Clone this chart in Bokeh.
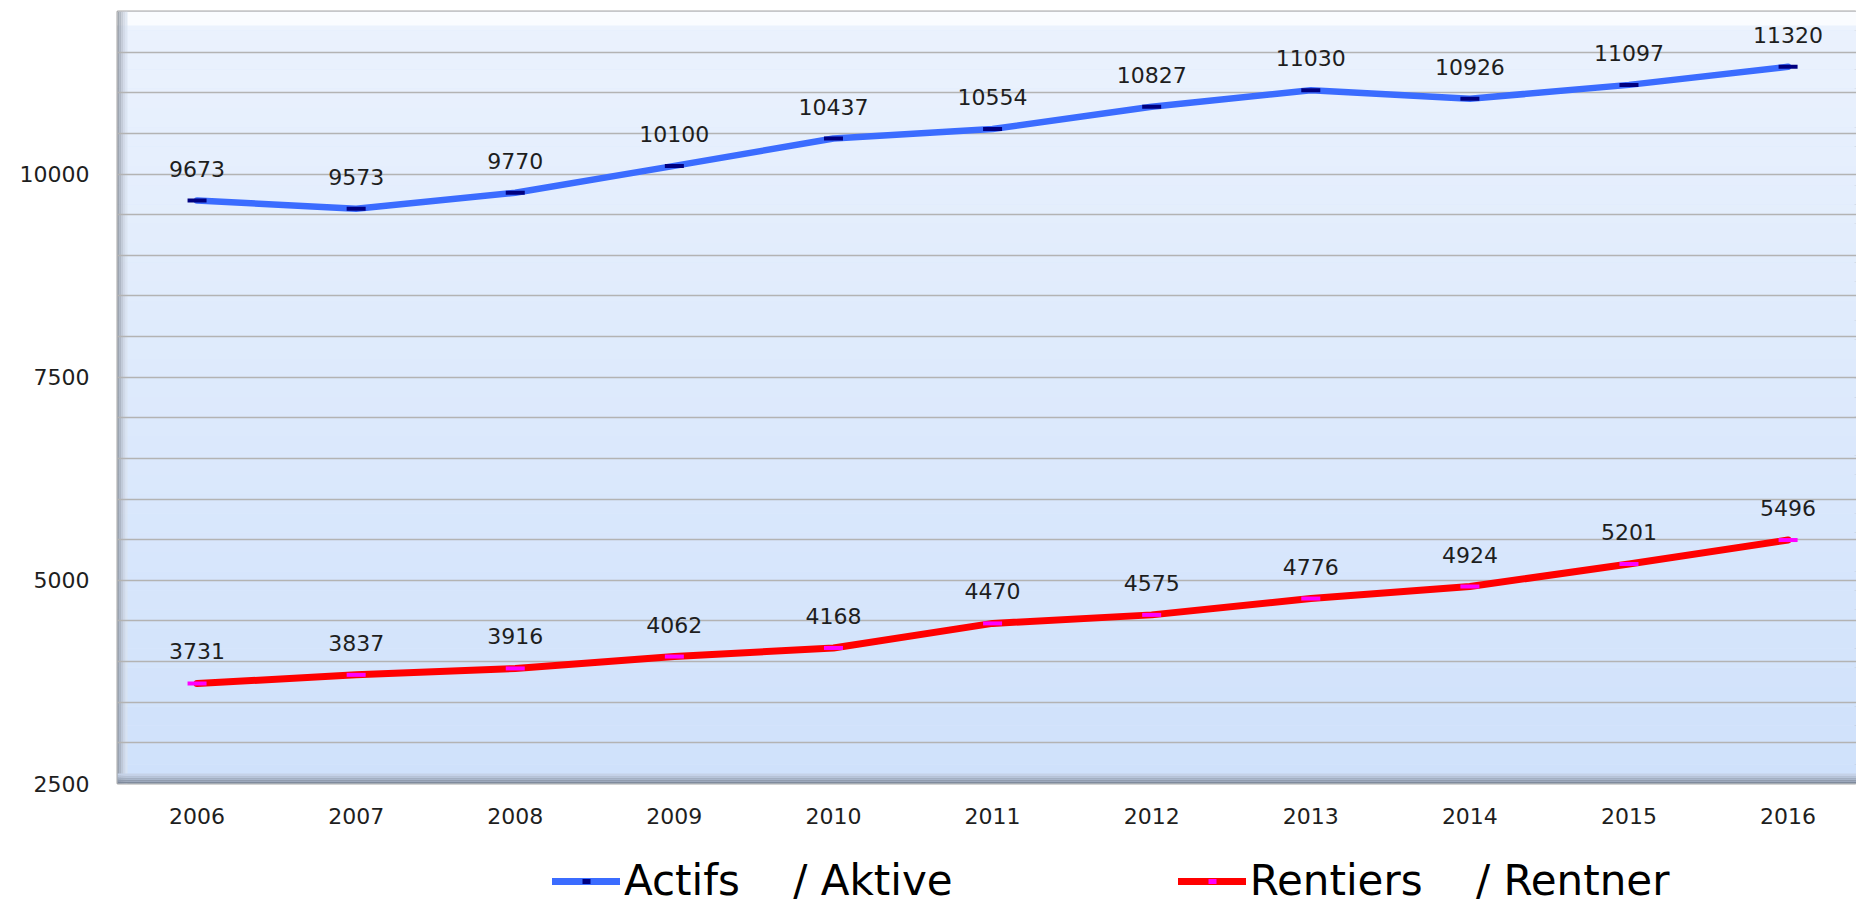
from bokeh.plotting import figure
from bokeh.layouts import column
from bokeh.models import (Legend, LegendItem, BoxAnnotation, SingleIntervalTicker,
                          Range1d)
from bokeh.core.properties import value
from bokeh.embed import file_html
from bokeh.resources import INLINE

# ---- data ----
years = [2006, 2007, 2008, 2009, 2010, 2011, 2012, 2013, 2014, 2015, 2016]
actifs = [9673, 9573, 9770, 10100, 10437, 10554, 10827, 11030, 10926, 11097, 11320]
rentiers = [3731, 3837, 3916, 4062, 4168, 4470, 4575, 4776, 4924, 5201, 5496]
label_actifs = "Actifs\u00a0\u00a0\u00a0\u00a0/ Aktive"
label_rentiers = "Rentiers\u00a0\u00a0\u00a0\u00a0/ Rentner"

# ---- style ----
FONT = "DejaVu Sans"
Y0, Y1 = 2500, 12000
X0, X1 = 2005.5, 2016.43
W, H = 1856, 848
LH = 57
ML, MT, MB = 117, 11, 65
FW, FH = W - ML, H - MT - MB
BLUE, NAVY, RED, MAGENTA = "#3b6cff", "#000080", "#ff0000", "#ff00ff"

p = figure(output_backend="svg", toolbar_location=None,
           width=W, height=H,
           x_range=Range1d(X0, X1), y_range=Range1d(Y0, Y1),
           min_border_left=ML, min_border_top=MT, min_border_right=0,
           min_border_bottom=MB)
p.background_fill_color = "#dde9fc"
p.border_fill_color = "white"
p.outline_line_color = "#a8a8a8"
p.outline_line_width = 2

# background vertical gradient (style only)
top_c = (0xEB, 0xF2, 0xFD)
bot_c = (0xCF, 0xE1, 0xFB)
N = 40
for i in range(N):
    t = (i + 0.5) / N
    c = tuple(int(round(bot_c[k] + (top_c[k] - bot_c[k]) * t)) for k in range(3))
    b = Y0 + (Y1 - Y0) * i / N
    tp = Y0 + (Y1 - Y0) * (i + 1) / N
    p.add_layout(BoxAnnotation(bottom=b, top=tp, fill_color="#%02x%02x%02x" % c,
                               fill_alpha=1, line_color=None, level="image"))

ypx = (Y1 - Y0) / FH
xpx = (X1 - X0) / FW
# top bevel (white)
p.add_layout(BoxAnnotation(bottom=Y1 - 14 * ypx, fill_color="white", fill_alpha=0.75,
                           line_color=None, level="image"))
# left bevel (grey gradient)
left_cols = ["#8c939e", "#a3aab6", "#bac2ce", "#cdd5e2", "#dae2ef"]
for i, c in enumerate(left_cols):
    p.add_layout(BoxAnnotation(left=X0 + i * 2 * xpx, right=X0 + (i + 1) * 2 * xpx,
                               fill_color=c, fill_alpha=0.8, line_color=None, level="image"))
# bottom bevel
bot_cols = ["#7f8a9c", "#919cae", "#a3afc2", "#b6c2d6", "#c5d2e7"]
for i, c in enumerate(bot_cols):
    p.add_layout(BoxAnnotation(bottom=Y0 + i * 2 * ypx, top=Y0 + (i + 1) * 2 * ypx,
                               fill_color=c, fill_alpha=1, line_color=None, level="image"))

# grid
p.xgrid.grid_line_color = None
p.ygrid.ticker = SingleIntervalTicker(interval=500)
p.ygrid.grid_line_color = "#b3b3b3"
p.ygrid.grid_line_width = 1.5

# axes
p.yaxis.ticker = SingleIntervalTicker(interval=2500)
p.xaxis.ticker = SingleIntervalTicker(interval=1)
for ax in (p.xaxis[0], p.yaxis[0]):
    ax.axis_line_color = None
    ax.major_tick_line_color = None
    ax.minor_tick_line_color = None
    ax.major_label_text_font = FONT
    ax.major_label_text_font_size = "22px"
    ax.major_label_text_color = "#1e1e1e"
p.yaxis.major_label_standoff = 22
p.xaxis.major_label_standoff = 18

# series
p.line(years, actifs, line_color=BLUE, line_width=6.5, line_cap="round",
       line_join="round")
p.scatter(years, actifs, marker="dash", size=19, line_color=NAVY, line_width=4)
p.line(years, rentiers, line_color=RED, line_width=7, line_cap="round",
       line_join="round")
p.scatter(years, rentiers, marker="dash", size=19, line_color=MAGENTA, line_width=4)

# data labels
for ys in (actifs, rentiers):
    p.text(years, ys, text=[str(v) for v in ys], text_align="center",
           text_baseline="alphabetic", y_offset=-32,
           text_font=value(FONT), text_font_size="22px", text_color="#1e1e1e")

# ---- legend strip below the chart (its glyphs sit outside its own view) ----
q = figure(output_backend="svg", toolbar_location=None, width=W, height=LH,
           x_range=Range1d(0, 1), y_range=Range1d(0, 1),
           min_border_left=0, min_border_right=0, min_border_top=0,
           min_border_bottom=0)
q.axis.visible = False
q.grid.visible = False
q.outline_line_color = None
q.background_fill_color = "white"
ql1 = q.line(years, actifs, line_color=BLUE, line_width=7, line_cap="round")
qm1 = q.scatter(years, actifs, marker="dash", size=19, line_color=NAVY, line_width=5)
ql2 = q.line(years, rentiers, line_color=RED, line_width=7, line_cap="round")
qm2 = q.scatter(years, rentiers, marker="dash", size=19, line_color=MAGENTA,
                line_width=5)

legend = Legend(items=[LegendItem(label=label_actifs, renderers=[ql1, qm1], index=0),
                       LegendItem(label=label_rentiers, renderers=[ql2, qm2], index=0)],
                orientation="horizontal", location=(435, 0),
                label_text_font=FONT, label_text_font_size="42px",
                label_text_color="black",
                glyph_width=68, glyph_height=20, label_standoff=4,
                spacing=225, padding=0, margin=0,
                border_line_color=None, background_fill_alpha=0)
q.add_layout(legend, "center")

open("out.html", "w").write(file_html(column(p, q, spacing=0), INLINE))
